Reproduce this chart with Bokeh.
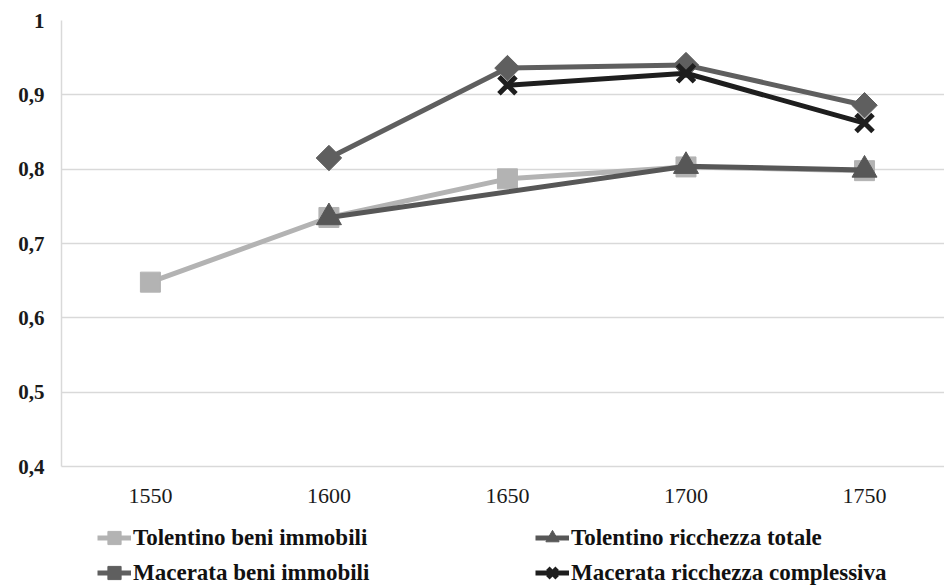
import numpy as np
from bokeh.plotting import figure
from bokeh.layouts import column
from bokeh.models import Range1d, FixedTicker, Legend, LegendItem
from bokeh.embed import file_html
from bokeh.resources import INLINE

years = [1550, 1600, 1650, 1700, 1750]
tol_beni_years = [1550, 1600, 1650, 1700, 1750]
tol_beni = [0.648, 0.735, 0.787, 0.803, 0.798]
tol_ricc_years = [1600, 1700, 1750]
tol_ricc = [0.735, 0.804, 0.799]
mac_beni_years = [1600, 1650, 1700, 1750]
mac_beni = [0.815, 0.936, 0.940, 0.886]
mac_ricc_years = [1650, 1700, 1750]
mac_ricc = [0.913, 0.929, 0.862]
y_ticks = [0.4, 0.5, 0.6, 0.7, 0.8, 0.9, 1.0]
y_labels = ["0,4", "0,5", "0,6", "0,7", "0,8", "0,9", "1"]

names = ["Tolentino beni immobili", "Tolentino ricchezza totale",
         "Macerata beni immobili", "Macerata ricchezza complessiva"]

FONT = "Liberation Serif"
X_RANGE = (1525.1, 1772.4)

c_tb = "#b3b3b3"
c_tr = "#575757"
c_mb = "#5f5f5f"
c_mr = "#1e1e1e"

# ---------------- main chart ----------------
p = figure(width=944, height=510, output_backend="svg", toolbar_location=None,
           x_range=Range1d(*X_RANGE), y_range=Range1d(0.4, 1.0),
           min_border_left=61, min_border_right=0, min_border_top=20,
           min_border_bottom=44)
p.outline_line_color = None
p.xgrid.visible = False
p.ygrid.grid_line_color = "#d9d9d9"
p.ygrid.grid_line_width = 1.5

p.yaxis.ticker = FixedTicker(ticks=y_ticks)
p.yaxis.major_label_overrides = {t: l for t, l in zip(y_ticks, y_labels)}
p.xaxis.ticker = FixedTicker(ticks=years)
for ax in (p.xaxis[0], p.yaxis[0]):
    ax.axis_line_color = "#d9d9d9"
    ax.axis_line_width = 1.5
    ax.major_tick_line_color = None
    ax.minor_tick_line_color = None
    ax.major_label_text_font = FONT
    ax.major_label_text_color = "#1a1a1a"
p.yaxis.major_label_text_font_size = "21px"
p.yaxis.major_label_text_font_style = "bold"
p.yaxis.major_label_standoff = 11
p.xaxis.major_label_text_font_size = "22px"
p.xaxis.major_label_standoff = 16


def draw_series(fig):
    r = []
    r.append(fig.line(tol_beni_years, tol_beni, line_color=c_tb, line_width=5))
    r.append(fig.scatter(tol_beni_years, tol_beni, marker="square", size=20,
                         fill_color=c_tb, line_color=c_tb))
    r.append(fig.line(tol_ricc_years, tol_ricc, line_color=c_tr, line_width=5))
    r.append(fig.scatter(tol_ricc_years, tol_ricc, marker="triangle", size=25,
                         fill_color=c_tr, line_color=c_tr))
    r.append(fig.line(mac_beni_years, mac_beni, line_color=c_mb, line_width=5))
    r.append(fig.scatter(mac_beni_years, mac_beni, marker="square", size=18,
                         angle=np.pi / 4, fill_color=c_mb, line_color=c_mb))
    r.append(fig.line(mac_ricc_years, mac_ricc, line_color=c_mr, line_width=5))
    r.append(fig.scatter(mac_ricc_years, mac_ricc, marker="x", size=24,
                         line_color=c_mr, line_width=5))
    return r


draw_series(p)

# ---------------- legend strip ----------------
q = figure(width=944, height=76, output_backend="svg", toolbar_location=None,
           x_range=Range1d(*X_RANGE), y_range=Range1d(2.0, 3.0),
           x_axis_location=None, y_axis_location=None,
           min_border_left=0, min_border_right=0, min_border_top=0,
           min_border_bottom=0)
q.outline_line_color = None
q.xgrid.visible = False
q.ygrid.visible = False
lr = draw_series(q)  # same series, kept out of view: used only by the legend


def mk_legend(items, x):
    return Legend(items=items, location=(x, -3), orientation="vertical",
                  glyph_width=34, glyph_height=33, spacing=2, padding=0, margin=0,
                  label_standoff=2,
                  background_fill_alpha=0, border_line_color=None,
                  label_text_font=FONT, label_text_font_size="23px",
                  label_text_font_style="bold", label_text_color="#111111")


legA = mk_legend([LegendItem(label=names[0], renderers=[lr[0], lr[1]]),
                  LegendItem(label=names[2], renderers=[lr[4], lr[5]])], 36)
legB = mk_legend([LegendItem(label=names[1], renderers=[lr[2], lr[3]]),
                  LegendItem(label=names[3], renderers=[lr[6], lr[7]])], 474)
q.add_layout(legA, "center")
q.add_layout(legB, "center")

layout = column(p, q, spacing=0)
open("out.html", "w").write(file_html(layout, INLINE))
